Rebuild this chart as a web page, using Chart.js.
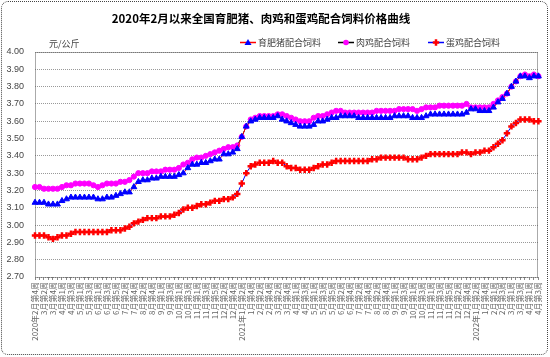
<!DOCTYPE html>
<html><head><meta charset="utf-8">
<script src="https://cdn.jsdelivr.net/npm/chart.js@4.4.0/dist/chart.umd.min.js"></script>
<style>
html,body{margin:0;padding:0;background:#fff;}
#wrap{position:relative;width:550px;height:357px;}
#frame{position:absolute;left:1px;top:1px;width:545px;height:352px;border:1px dotted #444;border-radius:7px;pointer-events:none;}
canvas{position:absolute;left:0;top:0;}
</style></head><body>
<div id="wrap"><canvas id="c" width="550" height="357"></canvas><div id="frame"></div></div>
<script>
const titleText = '2020年2月以来全国育肥猪、肉鸡和蛋鸡配合饲料价格曲线';
const unitText = '元/公斤';
const seriesNames = ['育肥猪配合饲料', '肉鸡配合饲料', '蛋鸡配合饲料'];

const categories = [
'2020年2月第4周',
'2020年3月第1周','2020年3月第2周','2020年3月第3周','2020年3月第4周','2020年3月第5周',
'2020年4月第1周','2020年4月第2周','2020年4月第3周','2020年4月第4周',
'2020年5月第1周','2020年5月第2周','2020年5月第3周','2020年5月第4周',
'2020年6月第1周','2020年6月第2周','2020年6月第3周','2020年6月第4周','2020年6月第5周',
'2020年7月第1周','2020年7月第2周','2020年7月第3周','2020年7月第4周',
'2020年8月第1周','2020年8月第2周','2020年8月第3周','2020年8月第4周','2020年8月第5周',
'2020年9月第1周','2020年9月第2周','2020年9月第3周','2020年9月第4周',
'2020年10月第1周','2020年10月第2周','2020年10月第3周','2020年10月第4周',
'2020年11月第1周','2020年11月第2周','2020年11月第3周','2020年11月第4周','2020年11月第5周',
'2020年12月第1周','2020年12月第2周','2020年12月第3周','2020年12月第4周',
'2021年1月第1周','2021年1月第2周','2021年1月第3周','2021年1月第4周',
'2021年2月第1周','2021年2月第2周','2021年2月第3周','2021年2月第4周',
'2021年3月第1周','2021年3月第2周','2021年3月第3周','2021年3月第4周','2021年3月第5周',
'2021年4月第1周','2021年4月第2周','2021年4月第3周','2021年4月第4周',
'2021年5月第1周','2021年5月第2周','2021年5月第3周','2021年5月第4周','2021年5月第5周',
'2021年6月第1周','2021年6月第2周','2021年6月第3周','2021年6月第4周',
'2021年7月第1周','2021年7月第2周','2021年7月第3周','2021年7月第4周',
'2021年8月第1周','2021年8月第2周','2021年8月第3周','2021年8月第4周','2021年8月第5周',
'2021年9月第1周','2021年9月第2周','2021年9月第3周','2021年9月第4周',
'2021年10月第1周','2021年10月第2周','2021年10月第3周','2021年10月第4周',
'2021年11月第1周','2021年11月第2周','2021年11月第3周','2021年11月第4周','2021年11月第5周',
'2021年12月第1周','2021年12月第2周','2021年12月第3周','2021年12月第4周',
'2022年1月第1周','2022年1月第2周','2022年1月第3周','2022年1月第4周','2022年1月第5周',
'2022年2月第1周','2022年2月第2周','2022年2月第3周','2022年2月第4周',
'2022年3月第1周','2022年3月第2周','2022年3月第3周','2022年3月第4周',
'2022年4月第1周','2022年4月第2周','2022年4月第3周'
];

const pigFeed = [
3.13,3.13,3.13,3.12,3.12,3.12,3.14,3.15,3.16,3.16,
3.16,3.16,3.16,3.16,3.15,3.15,3.16,3.16,3.17,3.18,
3.19,3.19,3.22,3.25,3.26,3.26,3.27,3.27,3.28,3.28,
3.28,3.28,3.29,3.30,3.33,3.35,3.35,3.36,3.36,3.37,
3.38,3.38,3.41,3.41,3.42,3.44,3.51,3.57,3.60,3.61,
3.62,3.62,3.62,3.62,3.63,3.61,3.60,3.59,3.58,3.57,
3.57,3.57,3.58,3.60,3.60,3.61,3.62,3.62,3.63,3.63,
3.63,3.63,3.62,3.62,3.62,3.62,3.62,3.62,3.62,3.62,
3.63,3.63,3.63,3.63,3.62,3.62,3.62,3.63,3.64,3.64,
3.64,3.64,3.64,3.64,3.64,3.64,3.65,3.67,3.67,3.66,
3.66,3.66,3.68,3.71,3.73,3.76,3.80,3.83,3.86,3.86,
3.85,3.86,3.86
];

const broilerFeed = [
3.22,3.22,3.21,3.21,3.21,3.21,3.22,3.23,3.23,3.24,
3.24,3.24,3.24,3.23,3.22,3.23,3.24,3.24,3.24,3.25,
3.25,3.26,3.28,3.30,3.30,3.30,3.31,3.31,3.31,3.32,
3.32,3.32,3.33,3.35,3.36,3.38,3.39,3.39,3.40,3.41,
3.42,3.43,3.44,3.45,3.45,3.46,3.51,3.57,3.61,3.62,
3.63,3.63,3.63,3.63,3.64,3.64,3.63,3.62,3.61,3.60,
3.60,3.60,3.62,3.63,3.63,3.64,3.65,3.66,3.66,3.65,
3.65,3.65,3.65,3.65,3.65,3.65,3.66,3.66,3.66,3.66,
3.66,3.67,3.67,3.67,3.67,3.66,3.67,3.68,3.68,3.68,
3.69,3.69,3.69,3.69,3.69,3.69,3.70,3.68,3.68,3.68,
3.68,3.68,3.70,3.72,3.74,3.76,3.80,3.83,3.86,3.87,
3.86,3.87,3.86
];

const layerFeed = [
2.94,2.94,2.94,2.93,2.92,2.93,2.94,2.94,2.95,2.96,
2.96,2.96,2.96,2.96,2.96,2.96,2.96,2.97,2.97,2.97,
2.98,2.99,3.01,3.02,3.03,3.04,3.04,3.04,3.05,3.05,
3.05,3.06,3.07,3.09,3.10,3.10,3.11,3.12,3.12,3.13,
3.14,3.14,3.15,3.15,3.16,3.18,3.24,3.30,3.34,3.35,
3.36,3.36,3.36,3.37,3.36,3.36,3.34,3.33,3.33,3.32,
3.32,3.32,3.33,3.34,3.35,3.35,3.36,3.37,3.37,3.37,
3.37,3.37,3.37,3.37,3.37,3.38,3.38,3.39,3.39,3.39,
3.39,3.39,3.39,3.38,3.38,3.38,3.39,3.40,3.41,3.41,
3.41,3.41,3.41,3.41,3.41,3.42,3.42,3.41,3.42,3.42,
3.43,3.43,3.45,3.47,3.49,3.53,3.57,3.59,3.61,3.61,
3.61,3.60,3.60
];

const yMin = 2.70, yMax = 4.00, yStep = 0.05;

const lineColors = ['#ff0000', '#000000', '#0000ff'];
const markerColors = ['#0000ff', '#ff00ff', '#ff0000'];
const markerStyles = ['triangle', 'circle', 'cross'];

function drawMarker(ctx, style, color, x, y) {
  ctx.save();
  ctx.fillStyle = color; ctx.strokeStyle = color;
  if (style === 'triangle') {
    ctx.beginPath(); ctx.moveTo(x, y - 3.5); ctx.lineTo(x + 3.5, y + 2.5); ctx.lineTo(x - 3.5, y + 2.5); ctx.closePath(); ctx.fill();
  } else if (style === 'circle') {
    ctx.beginPath(); ctx.arc(x, y, 2.8, 0, Math.PI * 2); ctx.fill();
  } else {
    ctx.lineWidth = 2.5; ctx.beginPath(); ctx.moveTo(x - 3.2, y); ctx.lineTo(x + 3.2, y); ctx.moveTo(x, y - 3.2); ctx.lineTo(x, y + 3.2); ctx.stroke();
  }
  ctx.restore();
}

const overlay = {
  id: 'overlay',
  beforeDatasetsDraw(chart) {
    const { ctx, chartArea: a } = chart;
    ctx.save();
    ctx.strokeStyle = '#555'; ctx.lineWidth = 1; ctx.setLineDash([1, 1]);
    ctx.strokeRect(Math.round(a.left) + 0.5, Math.round(a.top) + 0.5, Math.round(a.right - a.left) - 1, Math.round(a.bottom - a.top));
    ctx.restore();
  },
  afterDraw(chart) {
    const ctx = chart.ctx;
    ctx.save();
    ctx.fillStyle = '#000';
    ctx.font = 'bold 11.5px "Noto Sans CJK SC"';
    ctx.textAlign = 'center'; ctx.textBaseline = 'middle';
    ctx.fillText(titleText, 261, 19);
    ctx.font = '9px "Noto Sans CJK SC"';
    ctx.fillStyle = '#444'; ctx.textAlign = 'left';
    ctx.fillText(unitText, 49, 44);
    const lx = [240, 338, 428];
    for (let i = 0; i < 3; i++) {
      const y = 42.5;
      ctx.strokeStyle = lineColors[i]; ctx.lineWidth = 1.5;
      ctx.beginPath(); ctx.moveTo(lx[i], y); ctx.lineTo(lx[i] + 16, y); ctx.stroke();
      drawMarker(ctx, markerStyles[i], markerColors[i], lx[i] + 8, y);
      ctx.fillStyle = '#444';
      ctx.fillText(seriesNames[i], lx[i] + 18, y);
    }
    ctx.restore();
  }
};

const series = [pigFeed, broilerFeed, layerFeed];
const datasets = series.map((d, i) => ({
  label: seriesNames[i],
  data: d,
  borderColor: lineColors[i],
  borderWidth: 1,
  pointStyle: markerStyles[i],
  pointRadius: i === 2 ? 3.2 : (i === 0 ? 3.4 : 2.6),
  pointBackgroundColor: markerColors[i],
  pointBorderColor: markerColors[i],
  pointBorderWidth: i === 2 ? 2.5 : 1,
  tension: 0,
  fill: false
}));

new Chart(document.getElementById('c'), {
  type: 'line',
  data: { labels: categories, datasets },
  plugins: [overlay],
  options: {
    responsive: false,
    animation: false,
    devicePixelRatio: 1,
    layout: { padding: { left: 0, right: 11, top: 52, bottom: 0 } },
    plugins: { legend: { display: false }, title: { display: false }, tooltip: { enabled: false } },
    scales: {
      x: {
        type: 'category',
        offset: false,
        afterFit(s) { s.height = 80; },
        grid: { display: true, drawOnChartArea: false, drawTicks: true, tickLength: 3, color: '#888' },
        border: { display: false },
        ticks: {
          autoSkip: false, maxRotation: 90, minRotation: 90, padding: 2,
          color: '#666', font: { family: '"Noto Sans CJK SC"', size: 8 },
          callback(value, index) {
            if (index % 2) return '';
            const lab = categories[index];
            const yr = lab.slice(0, lab.indexOf('年') + 1);
            const prev = index >= 2 ? categories[index - 2] : '';
            return prev.startsWith(yr) ? lab.slice(yr.length) : lab;
          }
        }
      },
      y: {
        min: yMin, max: yMax,
        afterFit(s) { s.width = 35; },
        grid: { color: '#999', lineWidth: 1, drawTicks: false },
        border: { display: false, dash: [1, 1] },
        ticks: {
          stepSize: yStep, padding: 11, color: '#444',
          font: { family: '"Liberation Sans"', size: 9 },
          callback(v) { return Number(v).toFixed(2); }
        }
      }
    }
  }
});
</script>
</body></html>
